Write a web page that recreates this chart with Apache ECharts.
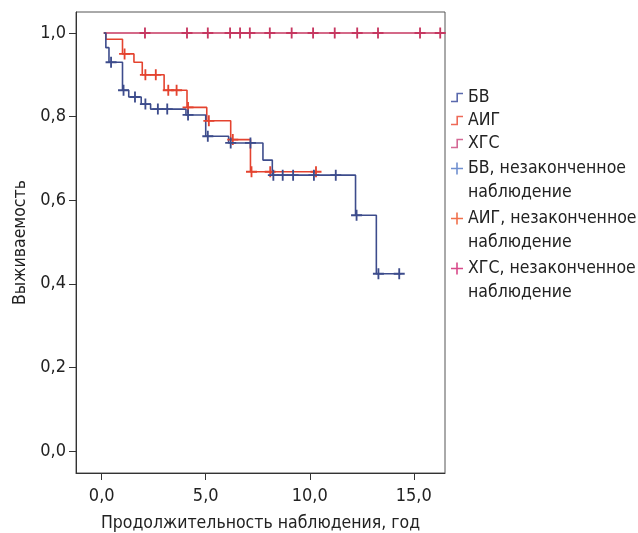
<!DOCTYPE html>
<html><head><meta charset="utf-8">
<script src="https://cdn.jsdelivr.net/npm/echarts@6/dist/echarts.min.js"></script>
<style>html,body{margin:0;padding:0;background:#fff}#c{width:638px;height:533px}</style>
</head><body><div id="c"></div>
<script>
// ---- data ----
const xTicks = [0, 5, 10, 15];
const yTicks = [0, 0.2, 0.4, 0.6, 0.8, 1.0];
const xTitle = 'Продолжительность наблюдения, год';
const yTitle = 'Выживаемость';
const legendNames = ['БВ', 'АИГ', 'ХГС'];
const censorNames = ['БВ, незаконченное\nнаблюдение', 'АИГ, незаконченное\nнаблюдение', 'ХГС, незаконченное\nнаблюдение'];

const bvTimes = [0.1, 0.2, 0.35, 1.0, 1.3, 1.9, 2.35, 4.05, 5.0, 6.1, 7.75, 8.2, 12.2, 13.2, 14.4];
const bvSurv  = [1.0, 0.965, 0.93, 0.863, 0.847, 0.83, 0.818, 0.804, 0.753, 0.737, 0.696, 0.66, 0.564, 0.424, 0.424];
const bvCensT = [0.45, 1.05, 1.6, 2.1, 2.7, 3.15, 4.15, 5.1, 6.2, 7.15, 8.25, 8.7, 9.2, 10.2, 11.25, 12.25, 13.3, 14.3];
const bvCensS = [0.93, 0.863, 0.847, 0.83, 0.818, 0.818, 0.804, 0.753, 0.737, 0.737, 0.66, 0.66, 0.66, 0.66, 0.66, 0.564, 0.424, 0.424];

const aigTimes = [0.1, 0.2, 1.0, 1.55, 1.95, 3.0, 4.1, 5.05, 6.2, 7.15, 10.3];
const aigSurv  = [1.0, 0.985, 0.95, 0.93, 0.90, 0.863, 0.822, 0.79, 0.745, 0.668, 0.668];
const aigCensT = [1.1, 2.1, 2.6, 3.2, 3.6, 4.15, 5.15, 6.3, 7.2, 8.1, 10.3];
const aigCensS = [0.95, 0.90, 0.90, 0.863, 0.863, 0.822, 0.79, 0.745, 0.668, 0.668, 0.668];

const xgsTimes = [0.1, 16.5];
const xgsSurv  = [1.0, 1.0];
const xgsCensT = [2.08, 4.1, 5.1, 6.17, 6.65, 7.12, 8.08, 9.13, 10.16, 11.2, 12.28, 13.28, 15.3, 16.27];
const xgsCensS = [1, 1, 1, 1, 1, 1, 1, 1, 1, 1, 1, 1, 1, 1];

// ---- styles ----
const FONT = "'DejaVu Sans Condensed', 'Liberation Sans Narrow', 'DejaVu Sans', sans-serif";
const lineColors = ['#3d4c8c', '#e4432f', '#c63760'];
const legLineColors = ['#5a69ad', '#ee6a58', '#d46895'];
const legCrossColors = ['#7090d0', '#f0704c', '#d84a8a'];
const stepIcon = 'path://M0,9h5.4v-8h6.6v1.6h-5v8h-7z';
const crossSym = 'path://M5,0h2v12h-2zM0,5h12v2h-12z';
function crossIcon(c) {
  const svg = "<svg xmlns='http://www.w3.org/2000/svg' width='12' height='48' viewBox='0 0 12 48'><path d='M5.2 6h1.6v12h-1.6zM0 11.2h12v1.6h-12z' fill='" + c + "'/></svg>";
  return 'image://data:image/svg+xml;charset=utf-8,' + encodeURIComponent(svg);
}
const zip = (a, b) => a.map((v, i) => [v, b[i]]);
const fmt = v => v.toFixed(1).replace('.', ',');

const stepData = [zip(bvTimes, bvSurv), zip(aigTimes, aigSurv), zip(xgsTimes, xgsSurv)];
const censData = [zip(bvCensT, bvCensS), zip(aigCensT, aigCensS), zip(xgsCensT, xgsCensS)];

const series = [];
[2, 1, 0].forEach(i => {
  series.push({
    name: legendNames[i], type: 'line', step: 'end', data: stepData[i],
    symbol: 'none', lineStyle: { width: 1.6, color: lineColors[i] }, itemStyle: { color: lineColors[i] }, z: 2 + (2 - i)
  });
});
[2, 1, 0].forEach(i => {
  series.push({
    name: censorNames[i], type: 'scatter', data: censData[i], symbol: crossSym, symbolSize: [11, 11],
    itemStyle: { color: lineColors[i], opacity: 1 }, z: 5
  });
});

const chart = echarts.init(document.getElementById('c'), null, { renderer: 'canvas' });
chart.setOption({
  animation: false,
  backgroundColor: '#fff',
  grid: { left: 76, top: 12, right: 193, bottom: 60, containLabel: false, outerBoundsMode: 'none', show: true, borderColor: '#555', borderWidth: 1 },
  xAxis: {
    type: 'value', min: -1.235, max: 16.5,
    splitLine: { show: false },
    axisLine: { show: true, onZero: false, lineStyle: { color: '#333', width: 1 } },
    axisTick: { show: true, length: 7, customValues: xTicks, lineStyle: { color: '#333' } },
    axisLabel: { customValues: xTicks, formatter: fmt, fontSize: 18, color: '#222', margin: 14, fontFamily: FONT },
    name: xTitle, nameLocation: 'middle', nameGap: 41,
    nameTextStyle: { fontSize: 17.5, color: '#222', fontFamily: FONT }
  },
  yAxis: {
    type: 'value', min: -0.0527, max: 1.0503,
    splitLine: { show: false },
    axisLine: { show: true, onZero: false, lineStyle: { color: '#333', width: 1 } },
    axisTick: { show: true, length: 7, customValues: yTicks, lineStyle: { color: '#333' } },
    axisLabel: { customValues: yTicks, formatter: fmt, fontSize: 18, color: '#222', margin: 10, fontFamily: FONT },
    name: yTitle, nameLocation: 'middle', nameGap: 42,
    nameTextStyle: { fontSize: 17.5, color: '#222', fontFamily: FONT }
  },
  legend: [
    {
      orient: 'vertical', left: 446, top: 81, itemWidth: 12, itemHeight: 11, itemGap: 0,
      selectedMode: false,
      data: legendNames.map((n, i) => ({ name: n, icon: stepIcon, itemStyle: { color: legLineColors[i] } })),
      textStyle: { fontSize: 17.5, lineHeight: 23, color: '#222', fontFamily: FONT }
    },
    {
      orient: 'vertical', left: 446, top: 151, itemWidth: 12, itemHeight: 48, itemGap: 1,
      selectedMode: false,
      data: censorNames.map((n, i) => ({ name: n, icon: crossIcon(legCrossColors[i]) })),
      textStyle: { fontSize: 17.5, lineHeight: 24.5, color: '#222', fontFamily: FONT }
    }
  ],
  series: series
});
</script>
</body></html>
